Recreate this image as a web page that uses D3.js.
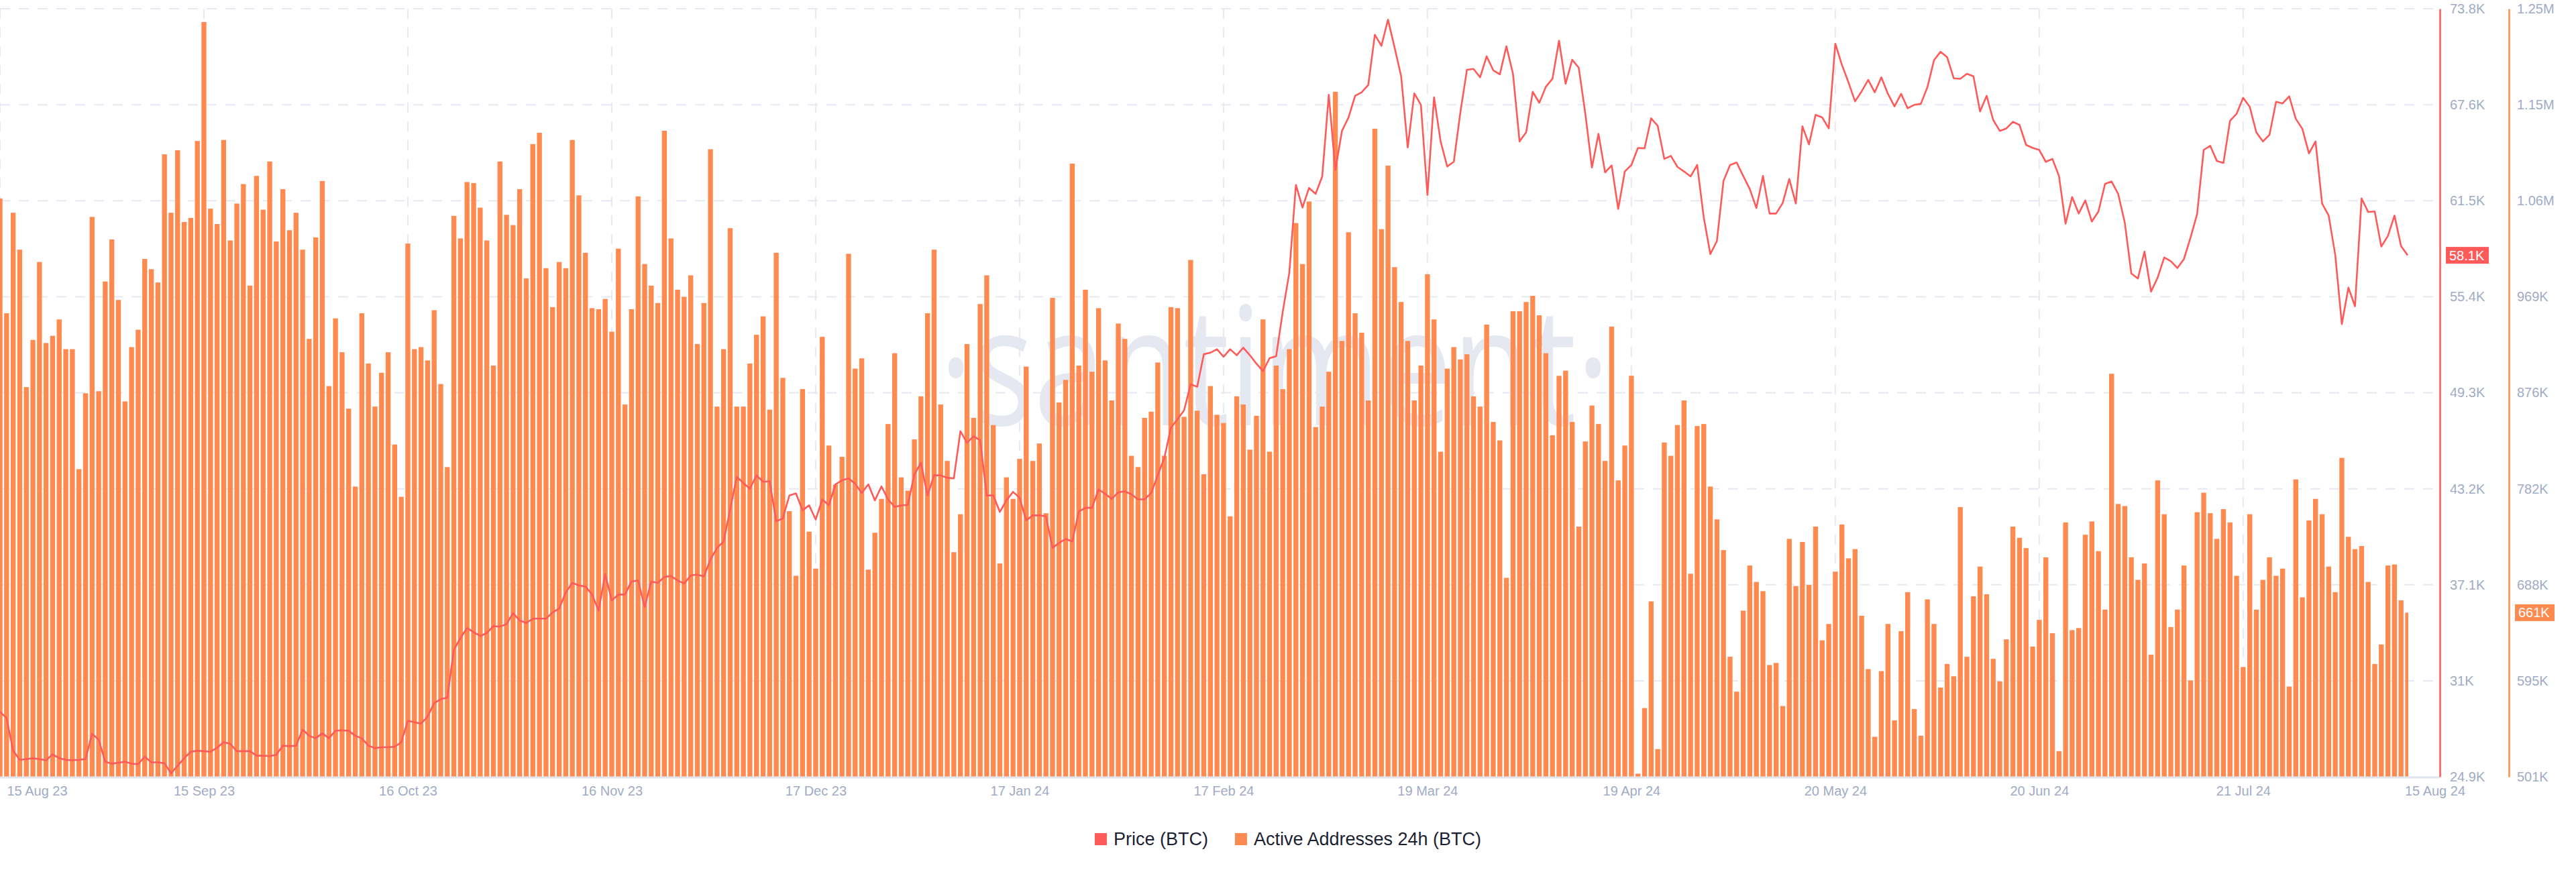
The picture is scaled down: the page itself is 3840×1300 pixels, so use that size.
<!DOCTYPE html>
<html><head><meta charset="utf-8">
<script src="https://cdn.jsdelivr.net/npm/d3@7"></script>
<style>
html,body{margin:0;padding:0;background:#fff;}
svg{display:block;font-family:"Liberation Sans",Arial,sans-serif;}
</style></head><body>
<svg id="chart" width="3840" height="1300"></svg>
<script>
// ---------------- DATA ----------------
const startDate = "2023-08-15";
const endDate = "2024-08-15";
const seriesNames = ["Price (BTC)", "Active Addresses 24h (BTC)"];
const xTickLabels = ["15 Aug 23","15 Sep 23","16 Oct 23","16 Nov 23","17 Dec 23","17 Jan 24","17 Feb 24","19 Mar 24","19 Apr 24","20 May 24","20 Jun 24","21 Jul 24"];
const lastTickLabel = "15 Aug 24";
const priceTickLabels = ["24.9K","31K","37.1K","43.2K","49.3K","55.4K","61.5K","67.6K","73.8K"];
const addrTickLabels = ["501K","595K","688K","782K","876K","969K","1.06M","1.15M","1.25M"];
const priceRangeK = [24.9, 73.8];
const addrRangeK = [501, 1250];

// Price (BTC), thousands USD, one value per day
const priceK = [
29.04,28.63,26.56,25.98,26.02,26.08,26.02,25.95,26.33,26.08,25.98,25.95,25.98,26.02,27.64,27.26,25.86,25.73,25.79,25.86,25.73,25.70,26.18,25.82,25.82,25.76,25.12,25.60,26.08,26.49,26.56,26.53,26.49,26.75,27.10,27.00,26.53,26.53,26.53,26.24,26.24,26.21,26.30,26.88,26.84,26.88,27.90,27.51,27.35,27.67,27.35,27.83,27.86,27.83,27.51,27.35,26.88,26.72,26.78,26.78,26.81,27.10,28.47,28.37,28.28,28.73,
29.59,29.84,29.94,33.00,33.73,34.37,34.11,33.86,34.05,34.49,34.46,34.62,35.32,34.85,34.69,34.97,34.97,34.97,35.36,35.61,36.63,37.24,37.08,37.01,36.50,35.48,37.81,36.12,36.50,36.50,37.33,37.40,35.71,37.33,37.24,37.62,37.68,37.40,37.20,37.71,37.78,37.65,38.73,39.47,39.88,41.92,43.99,43.61,43.23,44.09,43.68,43.71,41.16,41.35,42.81,42.94,41.86,42.18,41.28,42.56,42.18,43.52,43.77,43.90,43.55,
42.97,43.52,42.50,43.39,42.56,42.08,42.18,42.21,44.15,44.89,42.81,44.09,44.09,43.93,43.90,46.90,46.16,46.58,46.32,42.81,42.81,41.76,42.50,43.04,42.66,41.22,41.54,41.54,41.48,39.47,39.79,40.04,39.88,41.79,42.02,42.02,43.20,42.91,42.59,43.01,43.07,42.88,42.56,42.56,42.97,44.09,45.21,47.12,47.66,48.23,49.89,49.73,51.80,51.90,52.12,51.64,52.12,51.74,52.22,51.74,51.20,50.72,51.55,51.68,54.51,
57.00,62.58,61.14,62.39,62.01,63.12,68.32,63.53,66.02,66.88,68.25,68.48,68.95,72.14,71.44,73.10,71.34,69.50,64.97,68.41,67.68,61.94,68.16,65.35,63.76,64.05,67.20,69.91,69.97,69.43,70.77,69.88,69.62,71.41,69.66,65.35,65.93,68.51,67.81,68.83,69.34,71.76,69.02,70.55,70.04,67.11,63.69,65.83,63.38,63.82,61.05,63.44,63.85,64.94,64.91,66.82,66.34,64.24,64.43,63.73,63.44,63.12,63.85,60.51,58.18,59.01,
62.83,63.85,64.01,63.15,62.32,61.11,63.15,60.76,60.76,61.43,62.96,61.40,66.31,65.16,67.04,66.88,66.18,71.57,70.23,69.11,67.90,68.54,69.27,68.48,69.43,68.38,67.58,68.38,67.46,67.68,67.74,68.80,70.52,71.06,70.71,69.37,69.34,69.66,69.50,67.26,68.25,66.72,66.02,66.18,66.60,66.40,65.13,64.94,64.81,64.05,64.24,63.15,60.12,61.81,60.76,61.59,60.25,60.89,62.64,62.80,62.01,60.19,56.94,56.62,58.34,
55.79,56.68,57.96,57.73,57.29,57.86,59.23,60.73,64.81,65.07,64.11,63.98,66.66,67.11,68.13,67.55,65.93,65.35,65.77,67.87,67.77,68.22,66.79,66.15,64.59,65.35,61.40,60.63,58.12,53.72,56.04,54.86,61.72,60.86,60.89,58.66,59.33,60.63,58.69,58.10
];

// Active Addresses 24h (BTC), thousands, one value per day
const addressesK = [
1065,953,1051,1015,881,927,1003,924,931,947,918,918,801,875,1047,877,984,1025,966,867,920,937,1006,996,983,1108,1051,1112,1042,1046,1121,1237,1055,1040,1122,1024,1060,1079,980,1087,1054,1101,1023,1074,1034,1051,1015,928,1027,1082,882,948,915,860,784,953,904,862,895,915,825,774,1021,918,920,907,
956,884,803,1048,1026,1081,1080,1056,1024,902,1101,1049,1039,1074,987,1118,1129,997,959,1003,997,1122,1068,1012,958,957,967,935,1016,864,957,1067,1001,980,963,1131,1026,976,969,990,923,963,1113,862,918,1036,862,862,904,932,950,859,1012,890,760,697,879,740,704,930,824,786,813,1011,899,
909,703,739,772,845,914,793,780,830,872,953,1015,864,809,720,757,923,851,962,990,844,709,793,772,811,901,809,826,758,968,866,888,1099,902,976,896,958,907,868,943,928,814,803,851,857,905,814,959,958,852,1005,858,796,882,854,846,755,872,864,820,853,947,818,902,879,
918,1041,1001,1062,842,862,896,1169,926,1032,953,934,868,1133,1035,1097,998,964,926,868,902,991,947,818,899,920,908,913,872,862,942,847,829,695,955,955,964,970,951,914,834,892,897,847,745,828,863,845,809,940,790,824,892,504,568,672,528,827,814,844,868,699,843,845,784,752,
722,618,584,663,707,691,682,610,612,570,733,687,730,688,745,634,650,701,747,714,723,658,606,540,604,650,556,643,681,567,541,674,650,588,611,599,764,618,677,706,679,616,594,635,745,734,724,628,654,715,641,526,749,644,646,737,750,721,664,894,767,765,715,693,709,
620,790,757,647,664,707,595,759,778,758,733,762,749,697,608,757,664,693,715,697,704,589,791,676,751,772,757,706,681,812,735,723,726,691,611,630,707,708,673,661
];

// ---------------- CHART ----------------
const W = 3840, H = 1300;
const plot = {left: 0, top: 13, right: 3637, bottom: 1158};
const lastX = 3589;
const colPrice = "#ff5a5a", colAddr = "#ff8a4f", colText = "#a1abc5", colGrid = "#e7e9f2";

const parseISO = d3.timeParse("%Y-%m-%d");
const dates = d3.timeDay.range(parseISO(startDate), d3.timeDay.offset(parseISO(endDate), 1));
const parseTick = d3.timeParse("%d %b %y");
const tickDates = xTickLabels.map(parseTick);

const data = dates.map((d, i) => ({date: d, price: priceK[i], addr: addressesK[i]}));

const x = d3.scaleTime().domain([dates[0], dates[dates.length - 1]]).range([plot.left, lastX]);
const yP = d3.scaleLinear().domain(priceRangeK).range([plot.bottom, plot.top]);
const yA = d3.scaleLinear().domain(addrRangeK).range([plot.bottom, plot.top]);
const pTicks = priceTickLabels.map((_, k) => priceRangeK[0] + k * (priceRangeK[1] - priceRangeK[0]) / 8);
const aTicks = addrTickLabels.map((_, k) => addrRangeK[0] + k * (addrRangeK[1] - addrRangeK[0]) / 8);

const svg = d3.select("#chart");
svg.append("rect").attr("width", W).attr("height", H).attr("fill", "#fff");

// grid
const grid = svg.append("g");
grid.selectAll("line.h").data(pTicks.slice(1)).join("line")
  .attr("x1", plot.left).attr("x2", plot.right)
  .attr("y1", d => yP(d)).attr("y2", d => yP(d))
  .attr("stroke", colGrid).attr("stroke-width", 2).attr("stroke-dasharray", "15,13");
grid.selectAll("line.v").data(tickDates).join("line")
  .attr("x1", d => x(d)).attr("x2", d => x(d))
  .attr("y1", plot.top).attr("y2", plot.bottom)
  .attr("stroke", colGrid).attr("stroke-width", 2).attr("stroke-dasharray", "15,13");

// watermark
svg.append("text").attr("x", 1400).attr("y", 634)
  .attr("font-family", "'Open Sans', sans-serif").attr("font-size", 246)
  .attr("fill", "#e5e8f1").attr("textLength", 1000).attr("lengthAdjust", "spacingAndGlyphs")
  .text("·santiment·");

// bars
svg.append("clipPath").attr("id", "clipBars").append("rect")
  .attr("x", plot.left).attr("y", 0).attr("width", lastX + 1 - plot.left).attr("height", plot.bottom);
const bw = 7.35;
svg.append("g").attr("clip-path", "url(#clipBars)")
  .selectAll("rect").data(data).join("rect")
  .attr("x", d => x(d.date) - bw / 2).attr("width", bw)
  .attr("y", d => yA(d.addr)).attr("height", d => plot.bottom - yA(d.addr))
  .attr("fill", colAddr);

// baseline
svg.append("line").attr("x1", plot.left).attr("x2", plot.right)
  .attr("y1", plot.bottom + 1).attr("y2", plot.bottom + 1)
  .attr("stroke", "#e1e5ef").attr("stroke-width", 3);

// price line
svg.append("path").datum(data)
  .attr("fill", "none").attr("stroke", colPrice).attr("stroke-width", 2.6)
  .attr("stroke-linejoin", "round")
  .attr("d", d3.line().x(d => x(d.date)).y(d => yP(d.price)));

// x axis
const xAxis = svg.append("g").attr("transform", `translate(0,${plot.bottom})`)
  .call(d3.axisBottom(x).tickValues(tickDates).tickFormat((d, i) => xTickLabels[i]).tickSize(0).tickPadding(14));
xAxis.select(".domain").remove();
xAxis.selectAll("text").attr("fill", colText).attr("font-size", 20).attr("font-family", "'Liberation Sans', Arial, sans-serif");
xAxis.selectAll(".tick").filter((d, i) => i === 0).select("text").attr("text-anchor", "start").attr("dx", 10);
xAxis.append("g").attr("class", "tick").attr("transform", `translate(${x(dates[dates.length - 1])},0)`)
  .append("text").attr("dx", 41).attr("y", 14).attr("dy", "0.71em").attr("text-anchor", "middle")
  .attr("fill", colText).attr("font-size", 20).text(lastTickLabel);

// right axes
function styleAxis(g, col) {
  g.select(".domain").attr("stroke", col).attr("stroke-width", 2.5);
  g.selectAll("text").attr("fill", colText).attr("font-size", 20).attr("font-family", "'Liberation Sans', Arial, sans-serif");
}
const pAxis = svg.append("g").attr("transform", `translate(${plot.right},0)`)
  .call(d3.axisRight(yP).tickValues(pTicks).tickFormat((d, i) => priceTickLabels[i]).tickSize(0).tickSizeOuter(0).tickPadding(15));
styleAxis(pAxis, colPrice);
const aAxisX = 3740;
const aAxis = svg.append("g").attr("transform", `translate(${aAxisX},0)`)
  .call(d3.axisRight(yA).tickValues(aTicks).tickFormat((d, i) => addrTickLabels[i]).tickSize(0).tickSizeOuter(0).tickPadding(12));
styleAxis(aAxis, colAddr);

// last value badges
const last = data[data.length - 1];
function badge(ax, yv, label, col, w) {
  const g = svg.append("g").attr("transform", `translate(${ax},${yv})`);
  g.append("rect").attr("x", 9).attr("y", -12.5).attr("width", w).attr("height", 25).attr("fill", col);
  g.append("text").attr("x", 14).attr("dy", "0.35em").attr("fill", "#fff").attr("font-size", 20).text(label);
}
badge(plot.right, yP(last.price), last.price.toFixed(1) + "K", colPrice, 64);
badge(aAxisX, yA(last.addr), Math.round(last.addr) + "K", colAddr, 59);

// legend
const legend = svg.append("g");
const items = [{name: seriesNames[0], col: colPrice}, {name: seriesNames[1], col: colAddr}];
let cx = 0;
items.forEach((it, i) => {
  const g = legend.append("g").attr("transform", `translate(${cx},0)`);
  g.append("rect").attr("x", 0).attr("y", -9).attr("width", 18).attr("height", 18).attr("fill", it.col);
  const t = g.append("text").attr("x", 28).attr("dy", "0.35em").attr("font-size", 27).attr("fill", "#1c1f33").text(it.name);
  cx += 28 + t.node().getComputedTextLength() + 40;
});
const legW = cx - 40;
legend.attr("transform", `translate(${W / 2 - legW / 2},1251)`);
</script>
</body></html>
